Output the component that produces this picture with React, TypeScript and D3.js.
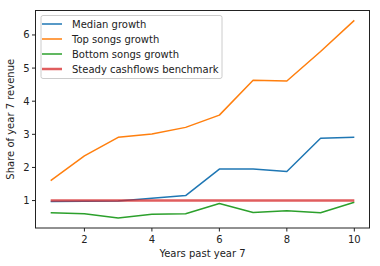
import * as d3 from "d3";

const years = [1, 2, 3, 4, 5, 6, 7, 8, 9, 10];
const medianGrowth = [0.97, 0.98, 0.99, 1.07, 1.15, 1.95, 1.95, 1.88, 2.88, 2.91];
const topGrowth = [1.6, 2.35, 2.91, 3.01, 3.21, 3.58, 4.63, 4.61, 5.5, 6.44];
const bottomGrowth = [0.63, 0.6, 0.47, 0.59, 0.6, 0.91, 0.64, 0.69, 0.63, 0.95];
const steadyBenchmark = [1, 1, 1, 1, 1, 1, 1, 1, 1, 1];

const xTicks = [2, 4, 6, 8, 10];
const yTicks = [1, 2, 3, 4, 5, 6];

const series = [
  { name: "Median growth", values: medianGrowth, color: "#1f77b4", width: 1.5, opacity: 1 },
  { name: "Top songs growth", values: topGrowth, color: "#ff7f0e", width: 1.5, opacity: 1 },
  { name: "Bottom songs growth", values: bottomGrowth, color: "#2ca02c", width: 1.5, opacity: 1 },
  { name: "Steady cashflows benchmark", values: steadyBenchmark, color: "#d62728", width: 2.5, opacity: 0.75 },
];

const W = 380;
const H = 266;
const margin = { top: 10.5, right: 10.5, bottom: 38, left: 35.5 };
const font = "DejaVu Sans, sans-serif";

export default function App() {
  const innerW = W - margin.left - margin.right;
  const innerH = H - margin.top - margin.bottom;

  const allVals = series.flatMap((s) => s.values);
  const yMin = d3.min(allVals)!;
  const yMax = d3.max(allVals)!;
  const yPad = (yMax - yMin) * 0.05;

  const x = d3.scaleLinear().domain([0.55, 10.45]).range([margin.left, margin.left + innerW]);
  const y = d3.scaleLinear().domain([yMin - yPad, yMax + yPad]).range([margin.top + innerH, margin.top]);

  const line = (vals: number[]) =>
    d3.line<number>()
      .x((_, i) => x(years[i]))
      .y((d) => y(d))(vals) ?? "";

  const bottomY = margin.top + innerH;

  return (
    <div style={{ position: "absolute", left: 0, top: 0 }}>
      <svg width={W} height={H} style={{ display: "block", background: "#fff", overflow: "visible" }} fontFamily={font}>
        {series.map((s) => (
          <path
            key={s.name}
            d={line(s.values)}
            fill="none"
            stroke={s.color}
            strokeWidth={s.width}
            strokeOpacity={s.opacity}
            strokeLinejoin="round"
          />
        ))}

        <rect x={margin.left} y={margin.top} width={innerW} height={innerH} fill="none" stroke="#222" strokeWidth={1} />

        {xTicks.map((t) => (
          <g key={t}>
            <line x1={x(t)} x2={x(t)} y1={bottomY} y2={bottomY + 3.5} stroke="#222" />
            <text x={x(t)} y={bottomY + 15} fontSize={10} textAnchor="middle" fill="#222">{t}</text>
          </g>
        ))}
        {yTicks.map((t) => (
          <g key={t}>
            <line x1={margin.left - 3.5} x2={margin.left} y1={y(t)} y2={y(t)} stroke="#222" />
            <text x={margin.left - 6} y={y(t) + 3.5} fontSize={10} textAnchor="end" fill="#222">{t}</text>
          </g>
        ))}

        <text x={margin.left + innerW / 2} y={257} fontSize={10} textAnchor="middle" fill="#222">Years past year 7</text>
        <text
          transform={`translate(13.5,${margin.top + innerH / 2}) rotate(-90)`}
          fontSize={10}
          textAnchor="middle"
          fill="#222"
        >
          Share of year 7 revenue
        </text>

        <g>
          <rect x={41} y={15.5} width={181} height={63} rx={2} fill="#fff" fillOpacity={0.8} stroke="#ccc" />
          {series.map((s, i) => (
            <g key={s.name} transform={`translate(0,${24 + i * 15})`}>
              <line x1={42} x2={62} y1={0} y2={0} stroke={s.color} strokeWidth={s.width} strokeOpacity={s.opacity} />
              <text x={72} y={3.5} fontSize={10} fill="#222">{s.name}</text>
            </g>
          ))}
        </g>
      </svg>
    </div>
  );
}
